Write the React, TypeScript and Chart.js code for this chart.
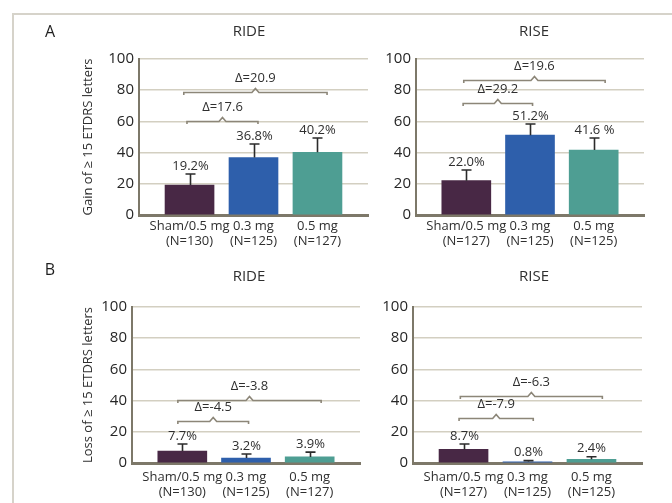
import React, { useEffect, useRef } from "react";
import { Chart, registerables } from "chart.js";
Chart.register(...registerables);

// ---------- data ----------
const groups = ["Sham/0.5 mg", "0.3 mg", "0.5 mg"];
const nRide = ["(N=130)", "(N=125)", "(N=127)"];
const nRise = ["(N=127)", "(N=125)", "(N=125)"];
const yTicks = [0, 20, 40, 60, 80, 100];

const gainRide = [19.2, 36.8, 40.2];
const gainRideErr = [7.1, 8.7, 9.2];
const gainRideLabels = ["19.2%", "36.8%", "40.2%"];
const gainRideBracketLabels = ["Δ=17.6", "Δ=20.9"];
const gainRideBracketLevels = [60.3, 78.8];
const gainRideBracketSpans = [[-0.04, 1.07], [-0.09, 2.15]];

const gainRise = [22.0, 51.2, 41.6];
const gainRiseErr = [6.8, 7.1, 7.8];
const gainRiseLabels = ["22.0%", "51.2%", "41.6 %"];
const gainRiseBracketLabels = ["Δ=29.2", "Δ=19.6"];
const gainRiseBracketLevels = [71.8, 86.5];
const gainRiseBracketSpans = [[-0.05, 1.04], [-0.04, 2.18]];

const lossRide = [7.7, 3.2, 3.9];
const lossRideErr = [4.5, 2.6, 3.1];
const lossRideLabels = ["7.7%", "3.2%", "3.9%"];
const lossRideBracketLabels = ["Δ=-4.5", "Δ=-3.8"];
const lossRideBracketLevels = [26.9, 40.4];
const lossRideBracketSpans = [[-0.07, 1.04], [-0.07, 2.18]];

const lossRise = [8.7, 0.8, 2.4];
const lossRiseErr = [3.5, 0.7, 1.6];
const lossRiseLabels = ["8.7%", "0.8%", "2.4%"];
const lossRiseBracketLabels = ["Δ=-7.9", "Δ=-6.3"];
const lossRiseBracketLevels = [28.8, 42.9];
const lossRiseBracketSpans = [[-0.07, 1.09], [-0.05, 2.17]];

// ---------- styles ----------
const FONT = '"Open Sans", "Noto Sans", sans-serif';
const barColors = ["#482845", "#2e5fab", "#4e9e93"];
const textColor = "#2f2f2f";
const axisColor = "#7d7869";
const gridColor = "#d3cfc1";
const bracketColor = "#8c8678";

type Panel = {
  key: string;
  title: string;
  letter?: string;
  yTitle?: string;
  values: number[];
  errors: number[];
  valueLabels: string[];
  nLabels: string[];
  bLabels: string[];
  bLevels: number[];
  bSpans: number[][];
  canvas: { left: number; top: number; width: number; height: number };
  plot: { left: number; top: number; right: number; bottom: number };
  titlePos: [number, number];
  letterPos?: [number, number];
  tickPad: number;
};

const panels: Panel[] = [
  {
    key: "aride", title: "RIDE", letter: "A", yTitle: "Gain of ≥ 15 ETDRS letters",
    values: gainRide, errors: gainRideErr, valueLabels: gainRideLabels, nLabels: nRide,
    bLabels: gainRideBracketLabels, bLevels: gainRideBracketLevels, bSpans: gainRideBracketSpans,
    canvas: { left: 20, top: 15, width: 360, height: 235 },
    plot: { left: 139, top: 59, right: 368, bottom: 215 },
    titlePos: [249, 32], letterPos: [50, 32], tickPad: 3.5,
  },
  {
    key: "arise", title: "RISE",
    values: gainRise, errors: gainRiseErr, valueLabels: gainRiseLabels, nLabels: nRise,
    bLabels: gainRiseBracketLabels, bLevels: gainRiseBracketLevels, bSpans: gainRiseBracketSpans,
    canvas: { left: 347, top: 15, width: 310, height: 235 },
    plot: { left: 416, top: 59, right: 644, bottom: 215 },
    titlePos: [534, 32], tickPad: 3.5,
  },
  {
    key: "bride", title: "RIDE", letter: "B", yTitle: "Loss of ≥ 15 ETDRS letters",
    values: lossRide, errors: lossRideErr, valueLabels: lossRideLabels, nLabels: nRide,
    bLabels: lossRideBracketLabels, bLevels: lossRideBracketLevels, bSpans: lossRideBracketSpans,
    canvas: { left: 20, top: 258, width: 360, height: 245 },
    plot: { left: 132, top: 307, right: 360, bottom: 463 },
    titlePos: [249, 277], letterPos: [50, 270], tickPad: 7,
  },
  {
    key: "brise", title: "RISE",
    values: lossRise, errors: lossRiseErr, valueLabels: lossRiseLabels, nLabels: nRise,
    bLabels: lossRiseBracketLabels, bLevels: lossRiseBracketLevels, bSpans: lossRiseBracketSpans,
    canvas: { left: 344, top: 258, width: 310, height: 245 },
    plot: { left: 413, top: 307, right: 642, bottom: 463 },
    titlePos: [534, 277], tickPad: 7,
  },
];

function makeOverlay(p: Panel) {
  return {
    id: "overlay_" + p.key,
    afterDatasetsDraw(chart: any) {
      const { ctx } = chart;
      const x = chart.scales.x;
      const y = chart.scales.y;
      ctx.save();
      // error bars + value labels
      p.values.forEach((v, i) => {
        const cx = Math.round(x.getPixelForValue(i)) + 0.5;
        const y0 = y.getPixelForValue(v);
        const y1 = y.getPixelForValue(v + p.errors[i]);
        ctx.strokeStyle = "#2b2b2b";
        ctx.lineWidth = 1.6;
        ctx.beginPath();
        ctx.moveTo(cx, y0);
        ctx.lineTo(cx, y1);
        ctx.moveTo(cx - 5, y1);
        ctx.lineTo(cx + 5, y1);
        ctx.stroke();
        ctx.fillStyle = textColor;
        ctx.font = `13px ${FONT}`;
        ctx.textAlign = "center";
        ctx.textBaseline = "middle";
        ctx.fillText(p.valueLabels[i], cx, y1 - 8);
      });
      // brackets
      p.bLabels.forEach((lab, k) => {
        const xa = x.getPixelForValue(p.bSpans[k][0]);
        const xb = x.getPixelForValue(p.bSpans[k][1]);
        const yy = Math.round(y.getPixelForValue(p.bLevels[k])) + 0.5;
        const xc = (xa + xb) / 2;
        ctx.strokeStyle = bracketColor;
        ctx.lineWidth = 1.6;
        ctx.beginPath();
        ctx.moveTo(xa, yy + 2.5);
        ctx.lineTo(xa, yy);
        ctx.lineTo(xc - 3.5, yy);
        ctx.lineTo(xc, yy - 4);
        ctx.lineTo(xc + 3.5, yy);
        ctx.lineTo(xb, yy);
        ctx.lineTo(xb, yy + 2.5);
        ctx.stroke();
        ctx.fillStyle = textColor;
        ctx.font = `13px ${FONT}`;
        ctx.textAlign = "center";
        ctx.textBaseline = "middle";
        ctx.fillText(lab, xc, yy - 14.5);
      });
      // titles
      ctx.fillStyle = textColor;
      ctx.font = `15px ${FONT}`;
      ctx.textAlign = "center";
      ctx.textBaseline = "middle";
      ctx.fillText(p.title, p.titlePos[0] - p.canvas.left, p.titlePos[1] - p.canvas.top);
      if (p.letter && p.letterPos) {
        ctx.font = `16px ${FONT}`;
        ctx.fillStyle = "#1e1e1e";
        ctx.fillText(p.letter, p.letterPos[0] - p.canvas.left, p.letterPos[1] - p.canvas.top);
      }
      ctx.restore();
    },
  };
}

function PanelChart({ p }: { p: Panel }) {
  const ref = useRef<HTMLCanvasElement | null>(null);
  useEffect(() => {
    if (!ref.current) return;
    const yAxisWidth = p.plot.left - p.canvas.left;
    const xAxisHeight = p.canvas.top + p.canvas.height - p.plot.bottom;
    const padTop = p.plot.top - p.canvas.top;
    const padRight = p.canvas.left + p.canvas.width - p.plot.right;
    const chart = new Chart(ref.current, {
      type: "bar",
      data: {
        datasets: [
          {
            data: p.values.map((v, i) => ({ x: i, y: v })),
            backgroundColor: barColors,
            barThickness: 49,
            borderWidth: 0,
          },
        ],
      },
      options: {
        animation: false,
        responsive: false,
        devicePixelRatio: 1,
        layout: { padding: { top: padTop, right: padRight, left: 0, bottom: 0 } },
        plugins: { legend: { display: false }, tooltip: { enabled: false }, title: { display: false } },
        scales: {
          x: {
            type: "linear",
            offset: false,
            min: -0.79,
            max: 2.79,
            grid: { display: false, drawTicks: false, offset: false },
            border: { display: true, color: axisColor, width: 3 },
            afterBuildTicks: (s: any) => {
              s.ticks = groups.map((_, i) => ({ value: i }));
            },
            afterFit: (s: any) => {
              s.height = xAxisHeight;
            },
            ticks: {
              autoSkip: false,
              maxRotation: 0,
              padding: p.tickPad,
              color: textColor,
              font: { family: FONT, size: 13, lineHeight: 1.15 },
              callback: (v: any) => [groups[v], p.nLabels[v]],
            },
          },
          y: {
            min: 0,
            max: 100,
            afterBuildTicks: (s: any) => {
              s.ticks = yTicks.map((v) => ({ value: v }));
            },
            afterFit: (s: any) => {
              s.width = yAxisWidth;
            },
            grid: {
              drawTicks: false,
              lineWidth: 1.5,
              color: (c: any) => (c.tick && c.tick.value === 0 ? "rgba(0,0,0,0)" : gridColor),
            },
            border: { display: true, color: axisColor, width: 2 },
            ticks: {
              padding: 5,
              color: "#262626",
              font: { family: FONT, size: 15 },
            },
            title: {
              display: !!p.yTitle,
              text: p.yTitle || "",
              color: textColor,
              font: { family: FONT, size: 13 },
              padding: { top: 60, bottom: 0 },
            },
          },
        },
      },
      plugins: [makeOverlay(p)],
    } as any);
    return () => chart.destroy();
  }, [p]);
  return (
    <canvas
      ref={ref}
      width={p.canvas.width}
      height={p.canvas.height}
      style={{
        position: "absolute",
        left: p.canvas.left,
        top: p.canvas.top,
        width: p.canvas.width,
        height: p.canvas.height,
      }}
    />
  );
}

export default function App() {
  return (
    <div
      style={{
        position: "absolute",
        left: 0,
        top: 0,
        width: 672,
        height: 503,
        background: "#ffffff",
        overflow: "hidden",
      }}
    >
      <div
        style={{
          position: "absolute",
          left: 12,
          top: 13,
          width: 700,
          height: 520,
          borderTop: "2px solid #d6d3ca",
          borderLeft: "2px solid #d6d3ca",
          boxSizing: "border-box",
        }}
      />
      {panels.map((p) => (
        <PanelChart key={p.key} p={p} />
      ))}
    </div>
  );
}
